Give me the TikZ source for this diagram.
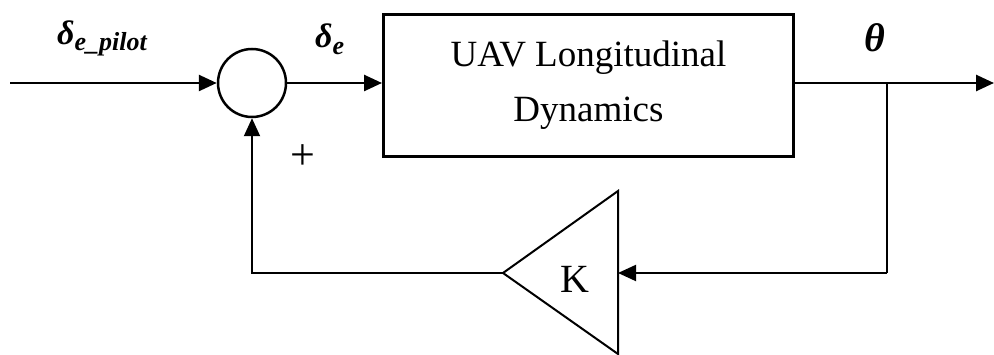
\documentclass[tikz,border=0pt]{standalone}
\usepackage{fontspec}
\setmainfont{Liberation Serif}
\usetikzlibrary{arrows.meta,calc}
\begin{document}
\begin{tikzpicture}[x=1pt,y=-1pt,
  sig/.style={line width=2.6pt,-{Triangle[length=18pt,width=16pt]}},
  fb/.style={line width=2pt},
  fbarrow/.style={line width=2pt,-{Triangle[length=18pt,width=16pt]}},
  blockbox/.style={draw,line width=3pt,minimum width=410pt,minimum height=142pt,inner sep=0pt},
  sumnode/.style={draw,circle,line width=2.5pt,minimum size=68pt,inner sep=0pt},
  lbl/.style={inner sep=0pt,font=\bfseries\itshape}
]
\useasboundingbox (0,0) rectangle (994,355);
% nodes
\coordinate (in) at (10,83);
\node[sumnode] (sum) at (252,83) {};
\node[blockbox,align=center,font=\fontsize{37}{55}\selectfont] (plant) at (588.5,85.5) {UAV Longitudinal\\Dynamics};
\coordinate (br) at (887,83);
\coordinate (out) at (994,83);
\coordinate (brdown) at (887,273);
\coordinate (kin) at (618,273);
\coordinate (ktip) at (503,273);
\coordinate (kcorner) at (252,273);
% gain triangle
\draw[line width=2pt,line join=miter] (618,191) -- (ktip) -- (618,354) -- cycle;
\node[inner sep=0pt,font=\fontsize{40}{40}\selectfont] (K) at (575,279) {K};
% connectors
\draw[sig] (in) -- (sum.west);
\draw[sig] (sum.east) -- (sum.east -| plant.west);
\draw[sig] (br -| plant.east) -- (out);
\draw[fb] (br) -- (brdown);
\draw[fbarrow] (brdown) -- (kin);
\draw[fbarrow] (ktip) -- (kcorner) -- (sum.south);
% labels
\node[lbl,anchor=base west] (lpilot) at (57,45) {\fontsize{34}{34}\selectfont δ\raisebox{-6pt}{\fontsize{26}{26}\selectfont e\_pilot}};
\node[lbl,anchor=base west] (le) at (315,48) {\fontsize{34}{34}\selectfont δ\raisebox{-7pt}{\fontsize{26}{26}\selectfont e}};
\node[lbl,anchor=base west] (ltheta) at (864,52) {\fontsize{40}{40}\selectfont θ};
\node[inner sep=0pt,font=\fontsize{44}{44}\selectfont] (plus) at (303,157) {+};
\end{tikzpicture}
\end{document}
